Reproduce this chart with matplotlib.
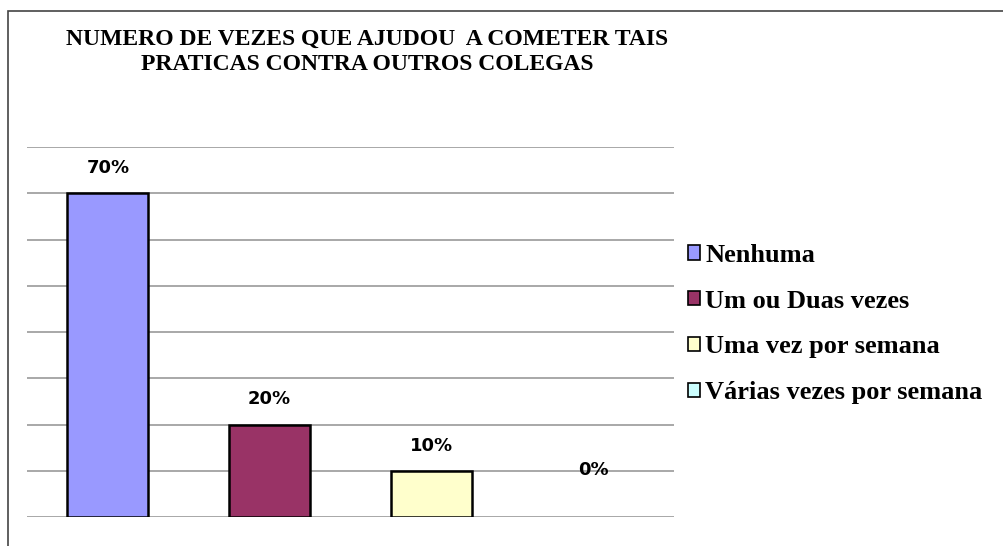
import matplotlib
matplotlib.use("Agg")
import matplotlib.pyplot as plt
from matplotlib.patches import Rectangle, Patch

# data
categories = ["Nenhuma", "Um ou Duas vezes", "Uma vez por semana", "Várias vezes por semana"]
values     = [0.70, 0.20, 0.10, 0.00]
labels     = ["70%", "20%", "10%", "0%"]
colors     = ["#9999FF", "#993366", "#FFFFCC", "#CCFFFF"]
title      = "NUMERO DE VEZES QUE AJUDOU  A COMETER TAIS\nPRATICAS CONTRA OUTROS COLEGAS"

W, H = 1004, 546
fig = plt.figure(figsize=(W / 100, H / 100), dpi=100)

# outer chart frame (right and bottom edges are cut off in the reference)
fig.patches.append(Rectangle((8 / W, -0.1), 1.2, 1 - 11 / H + 0.1,
                             transform=fig.transFigure, fill=False,
                             edgecolor="#444444", linewidth=1.2))

ax = fig.add_axes([27 / W, 1 - 517 / H, (674 - 27) / W, (517 - 147) / H])

x = list(range(len(categories)))
bars = ax.bar(x, values, width=0.5, color=colors, edgecolor="black",
              linewidth=1.8, zorder=3)
for b, v in zip(bars, values):
    if v == 0:
        b.set_linewidth(0)

ax.set_xlim(-0.5, len(categories) - 0.5)
ax.set_ylim(0, 0.8)
ax.set_yticks([i / 10 for i in range(9)])
ax.yaxis.grid(True, color="#999999", linewidth=1.2, zorder=0)
ax.tick_params(left=False, bottom=False, labelleft=False, labelbottom=False)
for s in ax.spines.values():
    s.set_visible(False)

for xi, v, lab in zip(x, values, labels):
    off = 25 if v > 0 else 47
    ax.annotate(lab, (xi, v), xytext=(0, off), textcoords="offset pixels",
                ha="center", va="center", fontsize=13, fontweight="bold",
                family="DejaVu Sans")

fig.text(367 / W, 1 - 52 / H, title, ha="center", va="center",
         fontsize=17, fontweight="bold", family="Liberation Serif",
         linespacing=1.25)

handles = [Patch(facecolor=c, edgecolor="black", linewidth=1.2) for c in colors]
fig.legend(handles, categories, loc="center left",
           bbox_to_anchor=(675 / W, 1 - 324 / H), frameon=False,
           prop={"family": "Liberation Serif", "weight": "bold", "size": 19},
           handlelength=0.45, handleheight=0.45, handletextpad=0.2,
           labelspacing=0.86, borderpad=0)

fig.savefig("out.png", dpi=100)
